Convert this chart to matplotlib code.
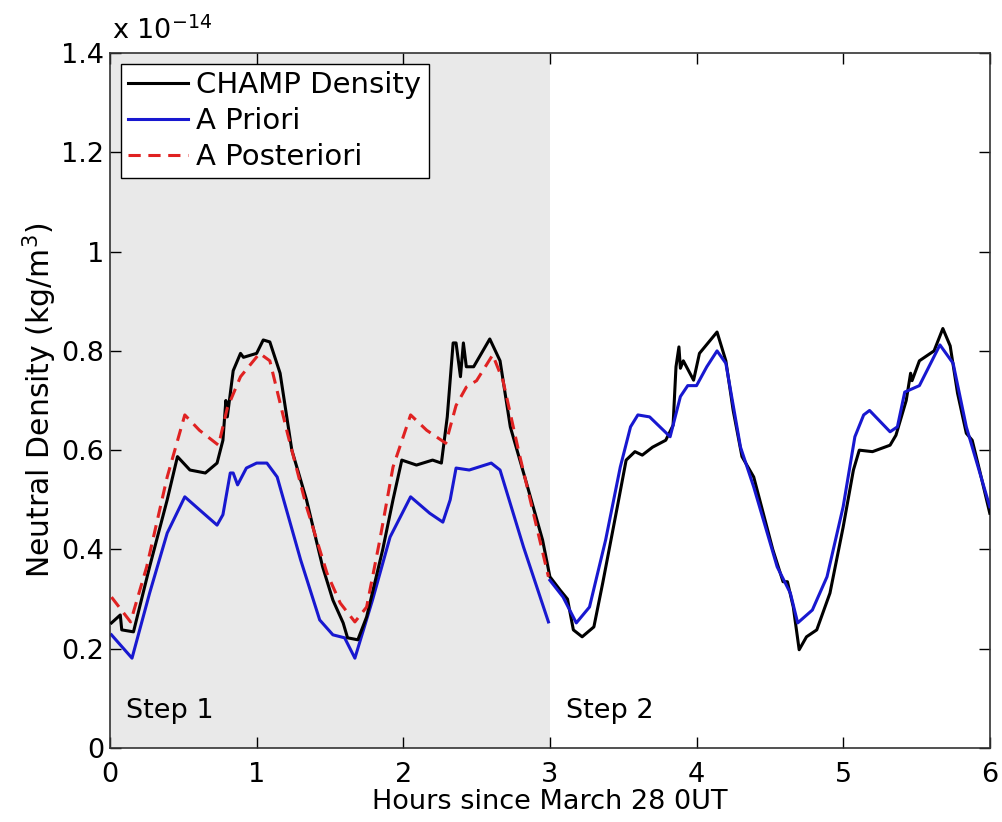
import numpy as np
import matplotlib.pyplot as plt

plt.rcParams['font.family'] = ['DejaVu Sans']

# values in units of 1e-14 kg/m^3
champ_t = [0.01, 0.07, 0.08, 0.16, 0.27, 0.39, 0.46, 0.545, 0.65, 0.73, 0.77, 0.79, 0.80, 0.84,
           0.89, 0.91, 1.0, 1.045, 1.09, 1.16, 1.24, 1.34, 1.45, 1.52, 1.59, 1.62, 1.69, 1.75,
           1.86, 1.93, 1.99, 2.09, 2.20, 2.26, 2.30, 2.34, 2.36, 2.39, 2.41, 2.43, 2.48, 2.59,
           2.66, 2.73, 2.84, 2.95, 3.0,
           3.07, 3.12, 3.16, 3.22, 3.30, 3.36, 3.46, 3.52, 3.58, 3.63, 3.70, 3.79, 3.84, 3.86,
           3.88, 3.89, 3.91, 3.98, 4.02, 4.14, 4.20, 4.25, 4.31, 4.39, 4.52, 4.59, 4.62, 4.66,
           4.70, 4.75, 4.82, 4.91, 5.0, 5.07, 5.11, 5.20, 5.32, 5.36, 5.43, 5.46, 5.47, 5.52,
           5.62, 5.68, 5.73, 5.78, 5.84, 5.88, 5.93, 6.0]
champ_v = [0.252, 0.268, 0.238, 0.234, 0.365, 0.50, 0.587, 0.56, 0.554, 0.574, 0.62, 0.70, 0.667, 0.76,
           0.795, 0.787, 0.795, 0.822, 0.818, 0.755, 0.60, 0.50, 0.365, 0.298, 0.252, 0.222, 0.218, 0.264,
           0.40, 0.50, 0.58, 0.57, 0.58, 0.574, 0.667, 0.816, 0.816, 0.748, 0.816, 0.768, 0.768, 0.824,
           0.78, 0.647, 0.534, 0.419, 0.345,
           0.318, 0.30, 0.238, 0.224, 0.244, 0.332, 0.486, 0.58, 0.597, 0.59, 0.606, 0.62, 0.65, 0.768,
           0.808, 0.765, 0.78, 0.741, 0.795, 0.838, 0.78, 0.68, 0.587, 0.546, 0.40, 0.335, 0.335, 0.284,
           0.198, 0.224, 0.238, 0.312, 0.445, 0.56, 0.60, 0.597, 0.61, 0.63, 0.70, 0.755, 0.74, 0.78,
           0.80, 0.845, 0.81, 0.715, 0.634, 0.62, 0.56, 0.473]

prior1_t = [0.01, 0.15, 0.27, 0.39, 0.51, 0.61, 0.73, 0.77, 0.82, 0.84, 0.87, 0.93, 1.0, 1.07, 1.14,
            1.30, 1.43, 1.52, 1.60, 1.67, 1.79, 1.91, 2.05, 2.18, 2.27, 2.32, 2.36, 2.45, 2.60,
            2.66, 2.82, 2.99]
prior1_v = [0.228, 0.181, 0.312, 0.433, 0.506, 0.48, 0.449, 0.47, 0.554, 0.554, 0.53, 0.564, 0.574, 0.574, 0.546,
            0.379, 0.258, 0.228, 0.222, 0.181, 0.298, 0.425, 0.506, 0.473, 0.455, 0.50, 0.564, 0.56, 0.574,
            0.56, 0.405, 0.254]

prior2_t = [3.0, 3.09, 3.18, 3.27, 3.38, 3.48, 3.55, 3.60, 3.68, 3.82, 3.89, 3.94, 4.0, 4.07, 4.14,
            4.20, 4.30, 4.39, 4.55, 4.64, 4.69, 4.79, 4.89, 5.0, 5.08, 5.14, 5.18, 5.32, 5.37, 5.42,
            5.52, 5.66, 5.75, 5.84, 6.0]
prior2_v = [0.338, 0.304, 0.252, 0.284, 0.419, 0.566, 0.647, 0.671, 0.667, 0.627, 0.708, 0.73, 0.73, 0.768, 0.80,
            0.775, 0.606, 0.526, 0.365, 0.312, 0.252, 0.278, 0.345, 0.486, 0.627, 0.671, 0.68, 0.637, 0.647, 0.717,
            0.73, 0.812, 0.775, 0.647, 0.486]

post_t = [0.01, 0.14, 0.25, 0.39, 0.51, 0.61, 0.74, 0.80, 0.89, 1.02, 1.09, 1.21, 1.34, 1.48, 1.57,
          1.67, 1.75, 1.84, 1.93, 2.05, 2.16, 2.29, 2.36, 2.43, 2.50, 2.61, 2.68, 2.79, 2.91, 2.99]
post_v = [0.304, 0.254, 0.365, 0.546, 0.671, 0.64, 0.61, 0.685, 0.748, 0.795, 0.78, 0.634, 0.486, 0.352, 0.292,
          0.254, 0.284, 0.419, 0.566, 0.671, 0.64, 0.614, 0.69, 0.727, 0.74, 0.792, 0.74, 0.594, 0.445, 0.345]

fig = plt.figure(figsize=(10.02, 8.22), dpi=100)
ax = fig.add_axes([0.1098, 0.090, 0.878, 0.8455])

ax.axvspan(0, 3, color='#e9e9e9', lw=0, zorder=0)

blue = '#1818d0'
ax.plot(champ_t, champ_v, color='black', lw=2.2, label='CHAMP Density', zorder=3)
ax.plot(prior1_t, prior1_v, color=blue, lw=2.2, label='A Priori', zorder=2)
ax.plot(prior2_t, prior2_v, color=blue, lw=2.2, zorder=4)
ax.plot(post_t, post_v, color='#e02222', lw=2.2, ls=(0, (4, 2.5)), label='A Posteriori', zorder=4)

ax.set_xlim(0, 6)
ax.set_ylim(0, 1.4)
ax.set_xticks(range(7))
ax.set_yticks([0, 0.2, 0.4, 0.6, 0.8, 1.0, 1.2, 1.4])
ax.set_yticklabels(['0', '0.2', '0.4', '0.6', '0.8', '1', '1.2', '1.4'])
ax.tick_params(direction='in', length=8, width=1, labelsize=19.5, top=True, right=True)
ax.tick_params(axis='x', pad=10)
ax.tick_params(axis='y', pad=4)
for s in ax.spines.values():
    s.set_linewidth(1.2)
    s.set_color('#333333')

ax.set_xlabel('Hours since March 28 0UT', fontsize=19.5, labelpad=1)
ax.set_ylabel('Neutral Density (kg/m$^3$)', fontsize=21.5, labelpad=2)
ax.text(0.002, 1.012, r'x 10$^{-14}$', transform=ax.transAxes, fontsize=19.5, va='bottom')

ax.text(0.11, 0.06, 'Step 1', fontsize=19.5)
ax.text(3.11, 0.06, 'Step 2', fontsize=19.5)

leg = ax.legend(loc='upper left', fontsize=21, fancybox=False, framealpha=1,
                edgecolor='black', handlelength=2.05, handletextpad=0.3,
                labelspacing=0.28, borderpad=0.25, borderaxespad=0.36)
leg.get_frame().set_linewidth(1.0)

fig.savefig('out.png', dpi=100)
